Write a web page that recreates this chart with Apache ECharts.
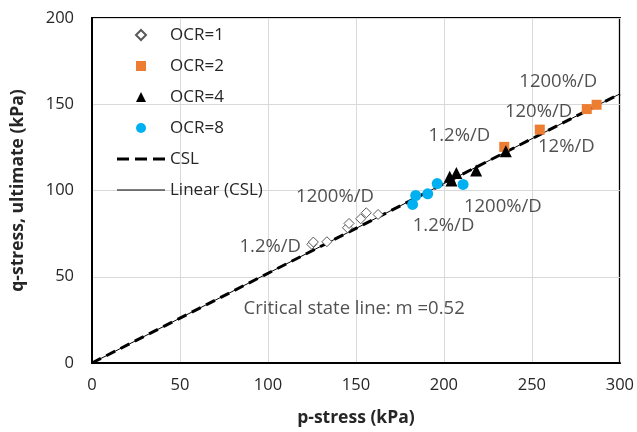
<!DOCTYPE html>
<html>
<head>
<meta charset="utf-8">
<script src="https://cdn.jsdelivr.net/npm/echarts@6/dist/echarts.min.js"></script>
<style>
  html, body { margin: 0; padding: 0; background: #fff; }
  #chart { width: 637px; height: 432px; }
</style>
</head>
<body>
<div id="chart"></div>
<script>
// Ultimate stress states (p, q in kPa) by overconsolidation ratio
const ocr1P = [124.9, 125.8, 133.5, 145.2, 146.1, 152.7, 155.9, 162.6];
const ocr1Q = [68.8, 70.1, 70.3, 78.4, 80.9, 83.6, 87.1, 86.1];
const ocr2P = [234.3, 254.5, 281.2, 286.8];
const ocr2Q = [125.3, 135.3, 147.2, 149.7];
const ocr4P = [203.3, 204.3, 207.1, 218.3, 235.2];
const ocr4Q = [107.9, 105.8, 110.2, 111.6, 122.7];
const ocr8P = [182.2, 184.0, 190.8, 196.2, 210.9];
const ocr8Q = [91.9, 97.1, 98.1, 104.0, 103.5];

// Critical state line q = m p, m = 0.52
const cslP = [0, 300];
const cslQ = [0, 156];
const trendP = [0, 300];
const trendQ = [0, 156];

// Shearing-rate notes and the CSL slope note, anchored at (p, q)
const noteText = ['1.2%/D', '1200%/D', '1.2%/D', '1200%/D', '1.2%/D', '1200%/D', '120%/D', '12%/D', 'Critical state line: m =0.52'];
const noteP = [101.3, 138.1, 199.8, 233.5, 208.8, 265.0, 253.8, 269.6, 149.0];
const noteQ = [67.6, 96.5, 79.8, 90.8, 131.8, 163.0, 145.7, 125.4, 31.2];

const xTicks = [0, 50, 100, 150, 200, 250, 300];
const yTicks = [0, 50, 100, 150, 200];

const pairs = (xs, ys) => xs.map((x, i) => [x, ys[i]]);
const FONT = 'Open Sans';
const INK = '#262626';

// legend glyphs (path icons keep their aspect inside the wide legend slot)
const diamondIcon = 'path://M5,0L10,5L5,10L0,5Z';
const squareIcon = 'path://M0,0h10v10h-10z';
const triangleIcon = 'path://M5,0L10,10L0,10Z';
const circleIcon = 'path://M0,5a5,5 0 1,0 10,0a5,5 0 1,0 -10,0Z';
const dashIcon = 'path://M0,0h12v3h-12z M18,0h12v3h-12z M36,0h12v3h-12z';
const thinIcon = 'path://M0,0h48v1h-48z';

const chart = echarts.init(document.getElementById('chart'), null, { renderer: 'canvas' });

chart.setOption({
  animation: false,
  backgroundColor: '#ffffff',
  textStyle: { fontFamily: FONT },
  grid: {
    left: 92, right: 12, top: 18, bottom: 68,
    show: true, borderColor: '#000', borderWidth: 2, backgroundColor: 'transparent'
  },
  legend: {
    orient: 'vertical',
    left: 117, top: 26, padding: 0,
    itemWidth: 48, itemHeight: 10, itemGap: 13,
    symbolKeepAspect: true,
    textStyle: { fontFamily: FONT, fontSize: 17, lineHeight: 18, color: INK },
    data: [
      { name: 'OCR=1', icon: diamondIcon },
      { name: 'OCR=2', icon: squareIcon },
      { name: 'OCR=4', icon: triangleIcon },
      { name: 'OCR=8', icon: circleIcon },
      { name: 'CSL', icon: dashIcon, itemStyle: { color: '#000' } },
      { name: 'Linear (CSL)', icon: thinIcon, itemStyle: { color: '#000' } }
    ]
  },
  xAxis: {
    type: 'value',
    min: xTicks[0], max: xTicks[xTicks.length - 1], interval: 50,
    name: 'p-stress (kPa)', nameLocation: 'middle', nameGap: 46,
    nameTextStyle: { fontFamily: FONT, fontSize: 17.5, fontWeight: 'bold', color: INK },
    axisLine: { show: true, lineStyle: { color: '#000', width: 2 } },
    axisTick: { show: false },
    axisLabel: { fontFamily: FONT, fontSize: 16.5, color: INK, margin: 14 },
    splitLine: { show: true, lineStyle: { color: '#d9d9d9', width: 1 } }
  },
  yAxis: {
    type: 'value',
    min: yTicks[0], max: yTicks[yTicks.length - 1], interval: 50,
    name: 'q-stress, ultimate (kPa)', nameLocation: 'middle', nameGap: 65,
    nameTextStyle: { fontFamily: FONT, fontSize: 17.5, fontWeight: 'bold', color: INK },
    axisLine: { show: true, lineStyle: { color: '#000', width: 2 } },
    axisTick: { show: false },
    axisLabel: { fontFamily: FONT, fontSize: 16.5, color: INK, margin: 18 },
    splitLine: { show: true, lineStyle: { color: '#d9d9d9', width: 1 } }
  },
  series: [
    {
      name: 'Linear (CSL)', type: 'line', data: pairs(trendP, trendQ),
      symbol: 'none', z: 2,
      lineStyle: { color: '#000', width: 1 },
      itemStyle: { color: '#000' }
    },
    {
      name: 'CSL', type: 'line', data: pairs(cslP, cslQ),
      symbol: 'none', z: 3,
      lineStyle: { color: '#000', width: 3, type: [10, 6] },
      itemStyle: { color: '#000' }
    },
    {
      name: 'OCR=1', type: 'scatter', data: pairs(ocr1P, ocr1Q),
      symbol: 'diamond', symbolSize: 10, z: 4,
      itemStyle: { color: '#ffffff', borderColor: '#595959', borderWidth: 1, opacity: 1 }
    },
    {
      name: 'OCR=2', type: 'scatter', data: pairs(ocr2P, ocr2Q),
      symbol: 'rect', symbolSize: 10, z: 5,
      itemStyle: { color: '#ED7D31', opacity: 1 }
    },
    {
      name: 'OCR=4', type: 'scatter', data: pairs(ocr4P, ocr4Q),
      symbol: 'triangle', symbolSize: 12, z: 6,
      itemStyle: { color: '#000000', opacity: 1 }
    },
    {
      name: 'OCR=8', type: 'scatter', data: pairs(ocr8P, ocr8Q),
      symbol: 'circle', symbolSize: 11, z: 7,
      itemStyle: { color: '#00B0F0', opacity: 1 }
    },
    {
      name: 'notes', type: 'scatter', silent: true, z: 8,
      symbolSize: 0,
      data: noteText.map((t, i) => ({ value: [noteP[i], noteQ[i]], name: t })),
      label: {
        show: true, position: 'inside', formatter: p => p.name,
        fontFamily: FONT, fontSize: 18.5, color: INK
      }
    }
  ]
});
</script>
</body>
</html>
